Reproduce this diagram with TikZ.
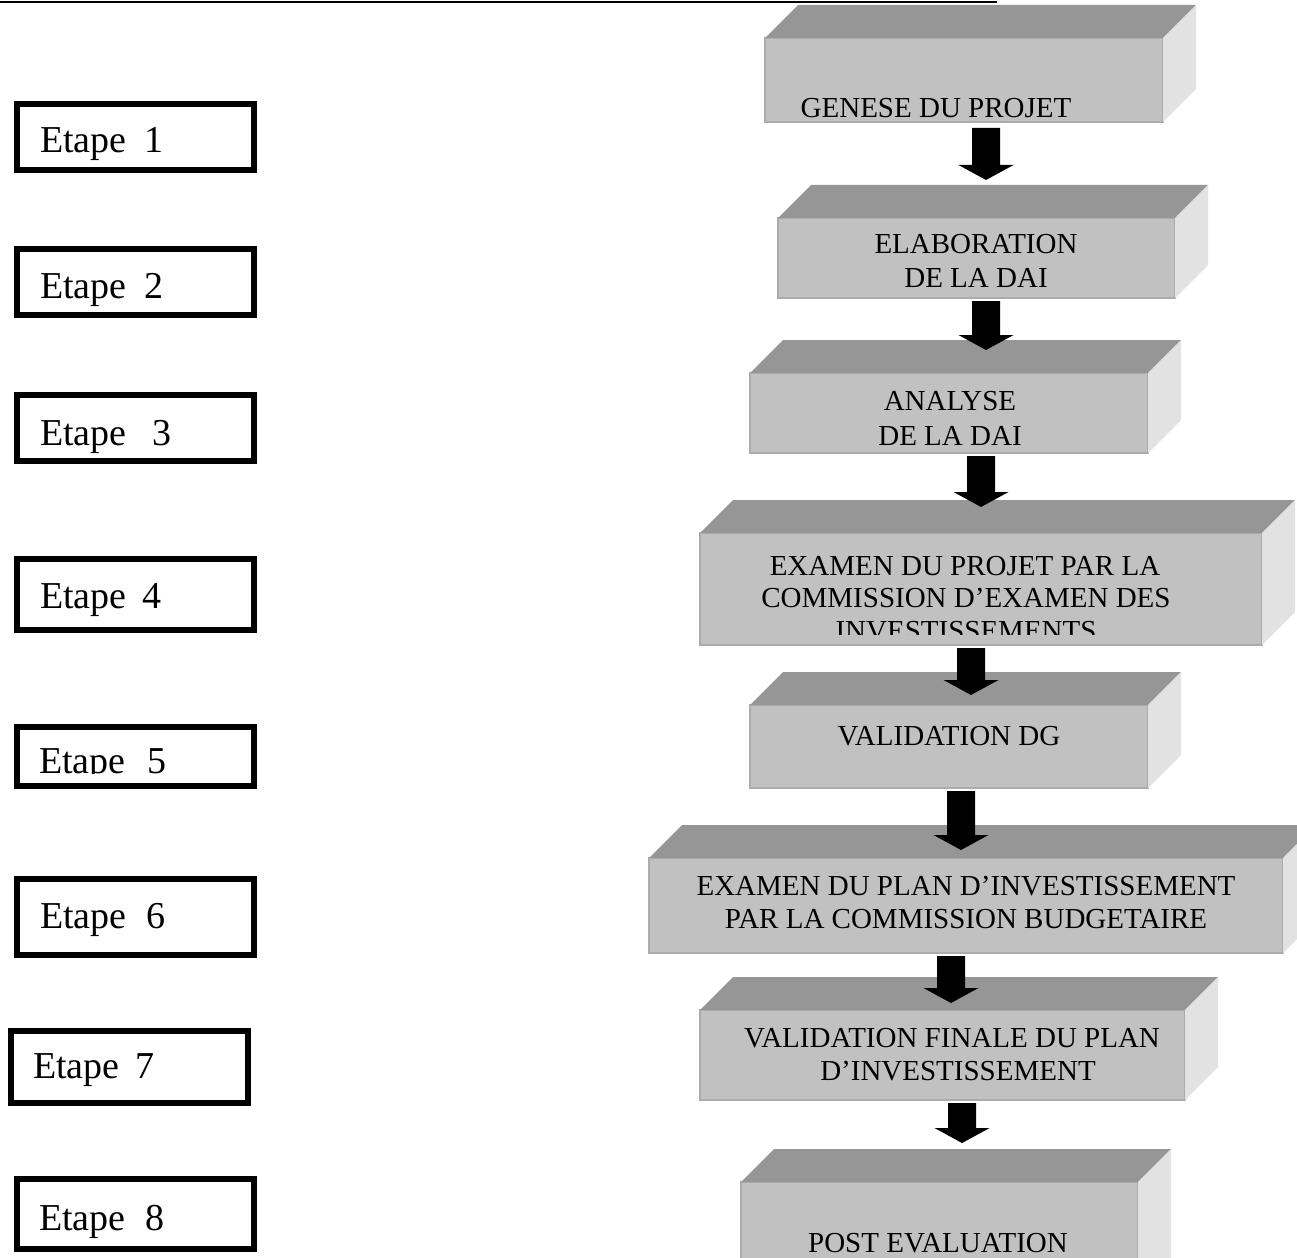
\documentclass[tikz,border=0pt]{standalone}
\usepackage{fontspec}
\setmainfont{Liberation Serif}
\usetikzlibrary{calc}
\definecolor{frontc}{RGB}{193,193,193}
\definecolor{topc}{RGB}{150,150,150}
\definecolor{sidec}{RGB}{226,226,226}
\definecolor{edgec}{RGB}{172,172,172}
\tikzset{
  front/.style={fill=frontc, draw=edgec, line width=1.2pt, inner sep=0pt, outer sep=0pt},
  cubetext/.style={font=\fontsize{29}{33}\selectfont, anchor=base, inner sep=0pt},
  steplbl/.style={font=\fontsize{38}{42}\selectfont, anchor=base west, inner sep=0pt},
  stepbox/.style={draw=black, line width=6pt, fill=white, inner sep=0pt, minimum width=237pt},
}
\newcommand\cubefaces[1]{%
  \fill[topc] (#1.north west) -- ++(33,-33) -- ($(#1.north east)+(33,-33)$) -- (#1.north east) -- cycle;
  \fill[sidec] (#1.north east) -- ++(33,-33) -- ($(#1.south east)+(33,-33)$) -- (#1.south east) -- cycle;
}
\newcommand\blockarrow[2]{%
  \fill[black] let \p1=#1, \p2=#2 in
    (\x1-14pt,\y1) -- (\x1-14pt,\y2+15pt) -- (\x1-27.5pt,\y2+15pt) -- (\x1,\y2)
    -- (\x1+27.5pt,\y2+15pt) -- (\x1+14pt,\y2+15pt) -- (\x1+14pt,\y1) -- cycle;
}
\begin{document}
\begin{tikzpicture}[x=1pt,y=-1pt]
\clip (0,0) rectangle (1297,1257);
\fill[white] (0,0) rectangle (1297,1257);

% top rule
\draw[line width=2.5pt] (0,2) -- (997,2);

% step boxes (left column)
\node[stepbox, minimum height=66pt] (e1) at (135.5,137) {};
\node[steplbl] (t1) at (40,153) {Etape\hspace{18pt}1};
\node[stepbox, minimum height=66pt] (e2) at (135.5,282) {};
\node[steplbl] (t2) at (40,298) {Etape\hspace{18pt}2};
\node[stepbox, minimum height=66pt] (e3) at (135.5,428) {};
\node[steplbl] (t3) at (40,445) {Etape\hspace{26pt}3};
\node[stepbox, minimum height=71pt] (e4) at (135.5,594.5) {};
\node[steplbl] (t4) at (40,608) {Etape\hspace{16pt}4};
\node[stepbox, minimum height=59pt] (e5) at (135.5,756.5) {};
\begin{scope}
  \clip (17,727) rectangle (254,773);
  \node[steplbl] (t5) at (39,773) {Etape\hspace{22pt}5};
\end{scope}
\node[stepbox, minimum height=76pt] (e6) at (135.5,917) {};
\node[steplbl] (t6) at (40,928) {Etape\hspace{20pt}6};
\node[stepbox, minimum height=72pt] (e7) at (129.5,1067) {};
\node[steplbl] (t7) at (33,1078) {Etape\hspace{16pt}7};
\node[stepbox, minimum height=70pt] (e8) at (135.5,1214) {};
\node[steplbl] (t8) at (39,1230) {Etape\hspace{20pt}8};

% 3D boxes (right column)
\node[front, minimum width=398pt, minimum height=84pt] (b1) at (964,80) {};
\cubefaces{b1}
\node[cubetext] (l1) at (936,118) {GENESE DU PROJET};

\node[front, minimum width=397pt, minimum height=80pt] (b2) at (976.5,258) {};
\cubefaces{b2}
\node[cubetext] (l2a) at (976,253) {ELABORATION};
\node[cubetext] (l2b) at (976,287) {DE LA DAI};

\node[front, minimum width=398pt, minimum height=80pt] (b3) at (949,413) {};
\cubefaces{b3}
\node[cubetext] (l3a) at (950,410) {ANALYSE};
\node[cubetext] (l3b) at (950,445) {DE LA DAI};

\node[front, minimum width=562pt, minimum height=112pt] (b4) at (981,589) {};
\cubefaces{b4}
\node[cubetext] (l4a) at (965,575) {EXAMEN DU PROJET PAR LA};
\node[cubetext] (l4b) at (966,607) {COMMISSION D’EXAMEN DES};
\begin{scope}
  \clip (700,533) rectangle (1262,634);
  \node[cubetext] (l4c) at (966,640) {INVESTISSEMENTS};
\end{scope}

\node[front, minimum width=398pt, minimum height=83pt] (b5) at (949,746.5) {};
\cubefaces{b5}
\node[cubetext] (l5) at (949,745) {VALIDATION DG};

\node[front, minimum width=634pt, minimum height=95pt] (b6) at (966,905.5) {};
\cubefaces{b6}
\node[cubetext] (l6a) at (966,895) {EXAMEN DU PLAN D’INVESTISSEMENT};
\node[cubetext] (l6b) at (966,928) {PAR LA COMMISSION BUDGETAIRE};

\node[front, minimum width=485pt, minimum height=90pt] (b7) at (942.5,1055) {};
\cubefaces{b7}
\node[cubetext] (l7a) at (952,1047) {VALIDATION FINALE DU PLAN};
\node[cubetext] (l7b) at (958,1080) {D’INVESTISSEMENT};

\node[front, minimum width=397pt, minimum height=118pt] (b8) at (939.5,1241) {};
\cubefaces{b8}
\node[cubetext] (l8) at (938,1252) {POST EVALUATION};

% block arrows
\blockarrow{([shift={(22,6)}]b1.south)}{([shift={(22,-38)}]b2.north)}
\blockarrow{([shift={(9.5,3)}]b2.south)}{([shift={(37,-23)}]b3.north)}
\blockarrow{([shift={(32,3)}]b3.south)}{([shift={(0,-26)}]b4.north)}
\blockarrow{([shift={(-10,3)}]b4.south)}{([shift={(22,-10)}]b5.north)}
\blockarrow{([shift={(12,3)}]b5.south)}{([shift={(-5,-8)}]b6.north)}
\blockarrow{([shift={(-15,3)}]b6.south)}{([shift={(8.5,-7)}]b7.north)}
\blockarrow{([shift={(19.5,3)}]b7.south)}{([shift={(22.5,-39)}]b8.north)}
\end{tikzpicture}
\end{document}
